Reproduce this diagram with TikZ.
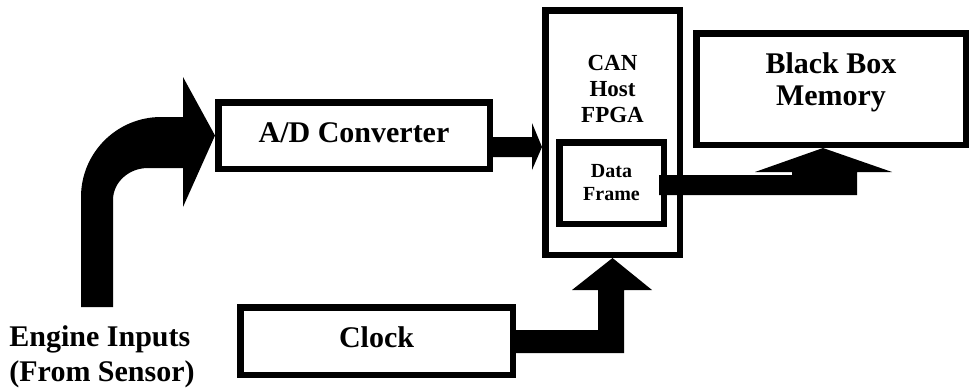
\documentclass[tikz,border=0pt]{standalone}
\usepackage{fontspec}
\setmainfont{Liberation Serif}

\begin{document}
\begin{tikzpicture}[
    x=0.5pt, y=-0.5pt,
    every node/.style={font=\bfseries\fontsize{15}{16}\selectfont},
    box/.style={draw, line width=3.25pt, text height=10.5pt, text depth=4pt},
    sub/.style={draw, line width=3.25pt, align=center,
                font=\bfseries\fontsize{10}{11.5}\selectfont},
    lbl/.style={align=center, inner sep=0pt},
    arr/.style={fill=black}
]
    \useasboundingbox (0,0) rectangle (970,387);

    \node[box, minimum width=135.75pt, minimum height=33.25pt] (ad)    at (354,135.5) {A/D Converter};
    \node[box, minimum width=67.25pt,  minimum height=122.25pt] (fpga) at (612.5,132.5) {};
    \node[lbl, font=\bfseries\fontsize{11.5}{13}\selectfont] (fpgatxt) at (612.5,88.5) {CAN\\Host\\FPGA};
    \node[sub, minimum width=52.25pt,  minimum height=40.75pt] (frame) at (611.5,183) {Data\\Frame};
    \node[box, minimum width=134.75pt, minimum height=55.75pt] (mem)   at (831,89) {};
    \node[lbl] (memtxt) at (831,82) {Black Box\\Memory};
    \node[box, minimum width=136.25pt, minimum height=33.75pt] (clock) at (376.5,341) {Clock};
    \node[lbl, align=left, anchor=north west, font=\bfseries\fontsize{15}{17.5}\selectfont]
        (engine) at (9,325) {Engine Inputs\\(From Sensor)};

    % engine inputs bend up into the converter
    \fill[arr] (ad.west) -- ++(-32,-58.5) -- ++(0,40) -- ++(-22,0)
        arc[start angle=270, end angle=180, radius=80] -- ++(0,110) -- ++(32,0) -- ++(0,-107)
        arc[start angle=180, end angle=270, x radius=35, y radius=32] -- ++(35,0) -- ++(0,39) -- cycle;
    \fill[arr] (ad.east) ++(0,1.5) -- ++(39,0) -- ++(0,-14) -- ([yshift=-7.25pt]fpga.west)
        -- ++(-10,23) -- ++(0,-13) -- ++(-39,0) -- cycle;
    \fill[arr] (frame.east) ++(-8,-8) -- ++(133,0) -- ++(0,-3) -- ++(-37,0) -- ([xshift=-4pt]mem.south)
        -- ++(69,24) -- ++(-35,0) -- ++(0,23) -- ++(-198,0) -- cycle;
    \fill[arr] (clock.east) ++(0,-11) -- ++(82,0) -- ++(0,-40) -- ++(-26,0) -- (fpga.south)
        -- ++(39.5,32) -- ++(-28,0) -- ++(0,63) -- ++(-108,0) -- cycle;
\end{tikzpicture}
\end{document}
